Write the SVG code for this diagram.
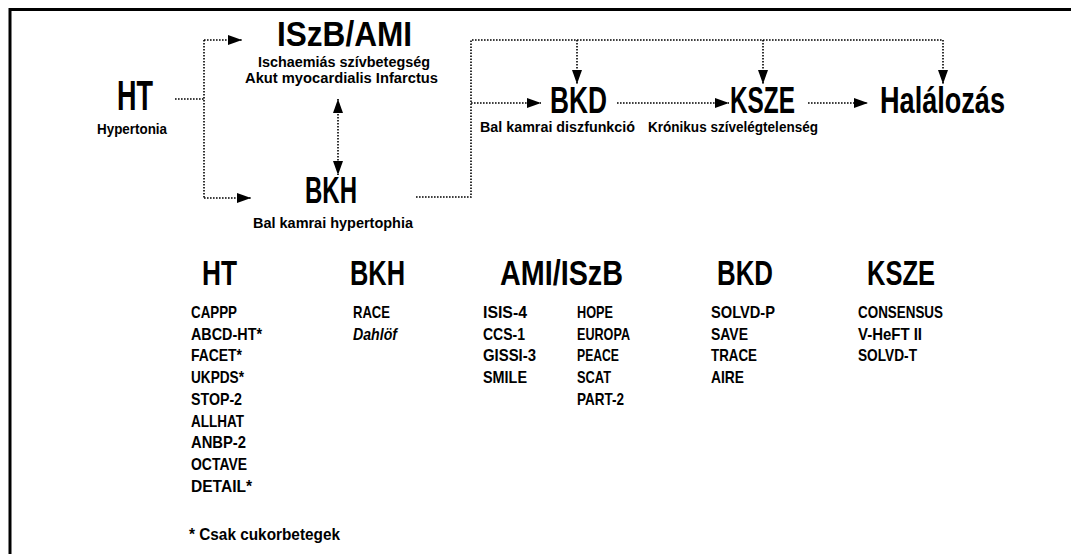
<svg xmlns="http://www.w3.org/2000/svg" width="1071" height="554" viewBox="0 0 1071 554">
<style>
text{font-family:"Liberation Sans",Arial,sans-serif;font-weight:bold;fill:#000}
.big{font-size:36px}
.t1{font-size:35px}
.huge{font-size:42px}
.sub{font-size:15px}
.sub2{font-size:14.5px}
.hd{font-size:35px}
.it{font-size:17px}
.it2{font-size:17px;font-style:italic}
.ln{fill:none;stroke:#000;stroke-width:1.6;stroke-dasharray:1.6 1.4}
.frame{fill:none;stroke:#000;stroke-width:3}
</style>
<defs>
<marker id="ah" markerWidth="14" markerHeight="10" refX="14" refY="5" orient="auto-start-reverse" markerUnits="userSpaceOnUse">
<path d="M0,0 L14,5 L0,10 z" fill="#000"/>
</marker>
</defs>
<rect width="1071" height="554" fill="#fff"/>
<path class="frame" d="M10,554 L10,9.5 L1071,9.5"/>

<g id="connectors">
<path class="ln" d="M175,99 L204,99"/>
<path class="ln" d="M204,40 L204,198"/>
<path class="ln" d="M204,40 L242,40" marker-end="url(#ah)"/>
<path class="ln" d="M204,198 L251,198" marker-end="url(#ah)"/>
<path class="ln" d="M338,99 L338,175" marker-start="url(#ah)" marker-end="url(#ah)"/>
<path class="ln" d="M416,197 L471,197 L471,40 L943,40"/>
<path class="ln" d="M471,103 L541,103" marker-end="url(#ah)"/>
<path class="ln" d="M577,40 L577,84" marker-end="url(#ah)"/>
<path class="ln" d="M763,40 L763,84" marker-end="url(#ah)"/>
<path class="ln" d="M943,40 L943,84" marker-end="url(#ah)"/>
<path class="ln" d="M617,103 L729,103" marker-end="url(#ah)"/>
<path class="ln" d="M808,103 L868,103" marker-end="url(#ah)"/>
</g>

<g id="node-ht">
<text class="huge" x="117" y="110" textLength="36" lengthAdjust="spacingAndGlyphs">HT</text>
<text class="sub" x="97" y="134" textLength="70" lengthAdjust="spacingAndGlyphs">Hypertonia</text>
</g>
<g id="node-iszb">
<text class="t1" x="277" y="46" textLength="135" lengthAdjust="spacingAndGlyphs">ISzB/AMI</text>
<text class="sub2" x="258" y="67" textLength="172" lengthAdjust="spacingAndGlyphs">Ischaemiás szívbetegség</text>
<text class="sub2" x="245" y="83" textLength="193" lengthAdjust="spacingAndGlyphs">Akut myocardialis Infarctus</text>
</g>
<g id="node-bkh">
<text class="big" x="305" y="203" textLength="52" lengthAdjust="spacingAndGlyphs">BKH</text>
<text class="sub" x="253" y="228" textLength="160" lengthAdjust="spacingAndGlyphs">Bal kamrai hypertophia</text>
</g>
<g id="node-bkd">
<text class="big" x="550" y="113" textLength="57" lengthAdjust="spacingAndGlyphs">BKD</text>
<text class="sub" x="480" y="132" textLength="155" lengthAdjust="spacingAndGlyphs">Bal kamrai diszfunkció</text>
</g>
<g id="node-ksze">
<text class="big" x="730" y="113" textLength="65" lengthAdjust="spacingAndGlyphs">KSZE</text>
<text class="sub" x="648" y="132" textLength="170" lengthAdjust="spacingAndGlyphs">Krónikus szívelégtelenség</text>
</g>
<g id="node-halalozas">
<text class="big" x="880" y="113" textLength="125" lengthAdjust="spacingAndGlyphs">Halálozás</text>
</g>

<g id="list-ht">
<text class="hd" x="202" y="285" textLength="35" lengthAdjust="spacingAndGlyphs">HT</text>
<text class="it" x="191" y="318" textLength="46" lengthAdjust="spacingAndGlyphs">CAPPP</text>
<text class="it" x="191" y="340" textLength="71" lengthAdjust="spacingAndGlyphs">ABCD-HT*</text>
<text class="it" x="191" y="361" textLength="51" lengthAdjust="spacingAndGlyphs">FACET*</text>
<text class="it" x="191" y="383" textLength="53" lengthAdjust="spacingAndGlyphs">UKPDS*</text>
<text class="it" x="191" y="405" textLength="51" lengthAdjust="spacingAndGlyphs">STOP-2</text>
<text class="it" x="191" y="427" textLength="53" lengthAdjust="spacingAndGlyphs">ALLHAT</text>
<text class="it" x="191" y="448" textLength="55" lengthAdjust="spacingAndGlyphs">ANBP-2</text>
<text class="it" x="191" y="470" textLength="56" lengthAdjust="spacingAndGlyphs">OCTAVE</text>
<text class="it" x="191" y="492" textLength="61" lengthAdjust="spacingAndGlyphs">DETAIL*</text>
<text class="it" x="189" y="540" textLength="151" lengthAdjust="spacingAndGlyphs">* Csak cukorbetegek</text>
</g>
<g id="list-bkh">
<text class="hd" x="350" y="285" textLength="55" lengthAdjust="spacingAndGlyphs">BKH</text>
<text class="it" x="353" y="318" textLength="37" lengthAdjust="spacingAndGlyphs">RACE</text>
<text class="it2" x="353" y="340" textLength="44" lengthAdjust="spacingAndGlyphs">Dahlöf</text>
</g>
<g id="list-ami">
<text class="hd" x="500" y="285" textLength="123" lengthAdjust="spacingAndGlyphs">AMI/ISzB</text>
<text class="it" x="483" y="318" textLength="44" lengthAdjust="spacingAndGlyphs">ISIS-4</text>
<text class="it" x="483" y="340" textLength="42" lengthAdjust="spacingAndGlyphs">CCS-1</text>
<text class="it" x="483" y="361" textLength="53" lengthAdjust="spacingAndGlyphs">GISSI-3</text>
<text class="it" x="483" y="383" textLength="44" lengthAdjust="spacingAndGlyphs">SMILE</text>
<text class="it" x="577" y="318" textLength="36" lengthAdjust="spacingAndGlyphs">HOPE</text>
<text class="it" x="577" y="340" textLength="53" lengthAdjust="spacingAndGlyphs">EUROPA</text>
<text class="it" x="577" y="361" textLength="42" lengthAdjust="spacingAndGlyphs">PEACE</text>
<text class="it" x="577" y="383" textLength="34" lengthAdjust="spacingAndGlyphs">SCAT</text>
<text class="it" x="577" y="405" textLength="47" lengthAdjust="spacingAndGlyphs">PART-2</text>
</g>
<g id="list-bkd">
<text class="hd" x="717" y="285" textLength="56" lengthAdjust="spacingAndGlyphs">BKD</text>
<text class="it" x="711" y="318" textLength="64" lengthAdjust="spacingAndGlyphs">SOLVD-P</text>
<text class="it" x="711" y="340" textLength="37" lengthAdjust="spacingAndGlyphs">SAVE</text>
<text class="it" x="711" y="361" textLength="46" lengthAdjust="spacingAndGlyphs">TRACE</text>
<text class="it" x="711" y="383" textLength="33" lengthAdjust="spacingAndGlyphs">AIRE</text>
</g>
<g id="list-ksze">
<text class="hd" x="867" y="285" textLength="68" lengthAdjust="spacingAndGlyphs">KSZE</text>
<text class="it" x="858" y="318" textLength="85" lengthAdjust="spacingAndGlyphs">CONSENSUS</text>
<text class="it" x="858" y="340" textLength="64" lengthAdjust="spacingAndGlyphs">V-HeFT II</text>
<text class="it" x="858" y="361" textLength="59" lengthAdjust="spacingAndGlyphs">SOLVD-T</text>
</g>
</svg>
